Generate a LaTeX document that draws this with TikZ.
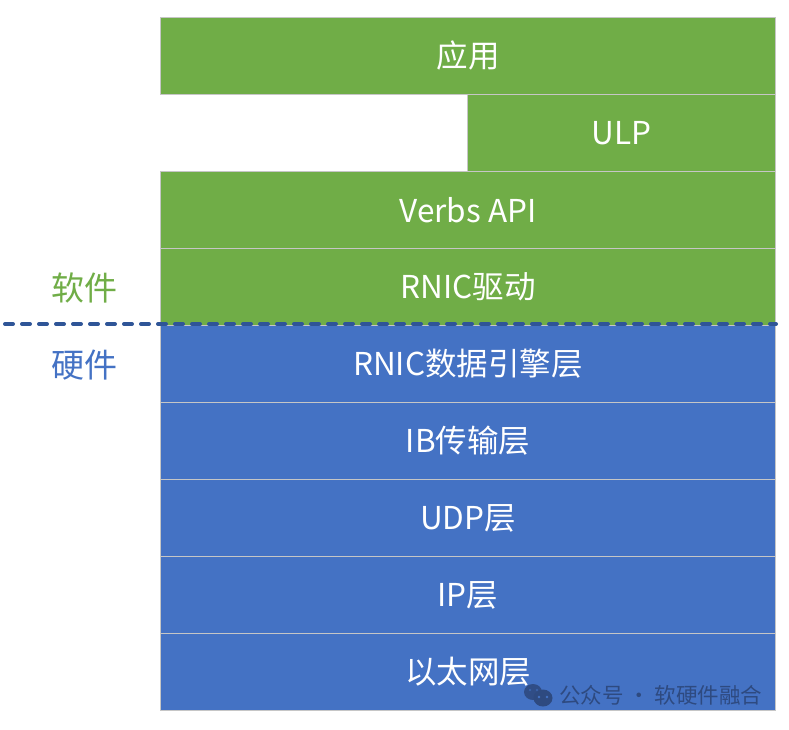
\documentclass[tikz,border=0pt]{standalone}
\usepackage{fontspec}
\setmainfont{Noto Sans CJK SC}
\definecolor{sw}{HTML}{70AD47}
\definecolor{hw}{HTML}{4472C4}
\definecolor{dl}{HTML}{2F5597}
\definecolor{wm}{HTML}{2E4A80}
\begin{document}
\begin{tikzpicture}[x=1pt,y=-1pt,
  layer/.style={draw=gray!45,line width=1pt,minimum height=77pt,inner sep=0pt,font=\fontsize{31.5}{34}\selectfont,text=white,anchor=north west},
  swl/.style={layer,fill=sw},
  hwl/.style={layer,fill=hw}]
\useasboundingbox (0,0) rectangle (789,729);
\node[swl,minimum width=615pt] (app) at (160,17) {应用};
\node[swl,minimum width=308pt] (ulp) at (467,94) {ULP};
\node[swl,minimum width=615pt] (verbs) at (160,171) {Verbs API};
\node[swl,minimum width=615pt] (drv) at (160,248) {RNIC驱动};
\node[hwl,minimum width=615pt] (eng) at (160,325) {RNIC数据引擎层};
\node[hwl,minimum width=615pt] (ib) at (160,402) {IB传输层};
\node[hwl,minimum width=615pt] (udp) at (160,479) {UDP层};
\node[hwl,minimum width=615pt] (ip) at (160,556) {IP层};
\node[hwl,minimum width=615pt] (eth) at (160,633) {以太网层};
\coordinate (dl0) at (5,324);
\coordinate (dl1) at (776,324);
\draw[dl,line width=4pt,line cap=round,dash pattern=on 8pt off 9pt] (dl0) -- (dl1);
\node[text=sw,font=\fontsize{33}{36}\selectfont] (soft) at (84,288) {软件};
\node[text=hw,font=\fontsize{33}{36}\selectfont] (hard) at (84,365) {硬件};
% watermark
\fill[wm,opacity=0.9] (533,692) ellipse (9pt and 8pt);
\fill[wm] (543,698) ellipse (9.5pt and 8.5pt);
\fill[hw] (539,697) circle (1.3pt) (547,697) circle (1.3pt);
\fill[hw!60!wm] (530,690) circle (1.3pt) (537,690) circle (1.3pt);
\node[text=wm,font=\fontsize{21.5}{23}\selectfont,anchor=west,inner sep=0pt] (wmt) at (559,695) {公众号~·~软硬件融合};
\end{tikzpicture}
\end{document}
